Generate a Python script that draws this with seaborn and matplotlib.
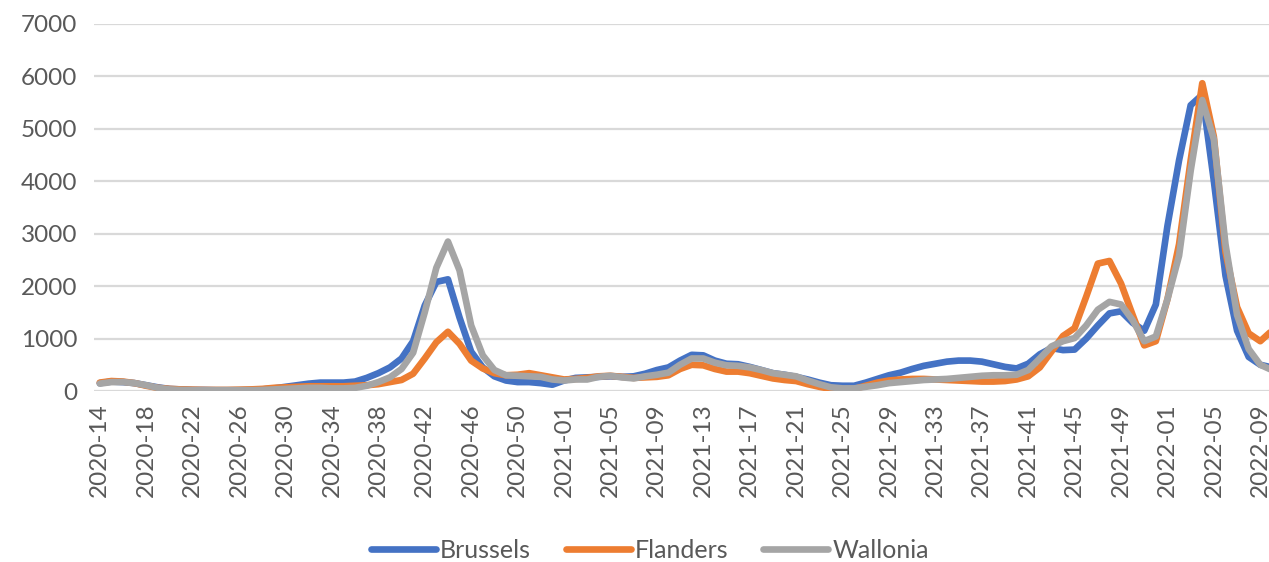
import pandas as pd
import matplotlib.pyplot as plt
import seaborn as sns

sns.set_style('white')
plt.rcParams['font.family'] = ['Lato', 'DejaVu Sans']

# week labels, 2020-14 .. 2022-10 (2020 has 53 weeks)
weeks = ([f'2020-{w:02d}' for w in range(14, 54)]
         + [f'2021-{w:02d}' for w in range(1, 53)]
         + [f'2022-{w:02d}' for w in range(1, 11)])

brussels = [150, 180, 170, 150, 110, 70, 40, 30, 20, 20,
            15, 15, 15, 20, 30, 50, 80, 110, 140, 160,
            160, 160, 180, 250, 340, 450, 620, 950, 1630, 2080,
            2130, 1400, 750, 450, 280, 200, 170, 170, 150, 120,
            200, 250, 260, 270, 280, 270, 280, 330, 400, 450,
            580, 690, 680, 580, 520, 510, 460, 400, 340, 310,
            270, 220, 160, 110, 100, 100, 160, 230, 300, 350,
            420, 480, 520, 560, 580, 580, 560, 510, 460, 430,
            520, 700, 820, 780, 790, 1000, 1250, 1480, 1520, 1300,
            1150, 1650, 3150, 4400, 5450, 5650, 4000, 2200, 1150, 650,
            500, 450]

flanders = [160, 190, 180, 150, 100, 60, 40, 30, 25, 20,
            20, 20, 25, 30, 40, 60, 70, 80, 90, 90,
            90, 90, 100, 110, 130, 170, 210, 330, 620, 930,
            1130, 900, 580, 430, 340, 300, 310, 340, 300, 260,
            220, 230, 250, 280, 290, 270, 250, 260, 270, 300,
            420, 500, 490, 420, 370, 370, 340, 290, 240, 210,
            190, 130, 80, 40, 30, 40, 100, 160, 200, 220,
            230, 230, 220, 210, 200, 190, 180, 180, 190, 220,
            280, 450, 750, 1050, 1200, 1800, 2430, 2480, 2050, 1450,
            870, 950, 1750, 2800, 4400, 5870, 4850, 2650, 1600, 1100,
            950, 1150]

wallonia = [140, 170, 170, 150, 110, 60, 30, 20, 15, 15,
            15, 15, 15, 15, 20, 30, 40, 50, 60, 60,
            50, 50, 60, 100, 170, 260, 420, 730, 1500, 2350,
            2850, 2300, 1250, 680, 400, 300, 290, 280, 270, 220,
            200, 220, 220, 270, 290, 260, 240, 280, 310, 350,
            500, 620, 620, 540, 490, 480, 450, 400, 340, 310,
            280, 200, 130, 70, 50, 50, 80, 110, 150, 170,
            190, 210, 220, 230, 250, 270, 290, 300, 300, 310,
            400, 620, 850, 950, 1010, 1250, 1550, 1700, 1650, 1350,
            950, 1040, 1750, 2580, 4200, 5550, 4800, 2800, 1450, 800,
            500, 400]

regions = ['Brussels', 'Flanders', 'Wallonia']
colors = ['#4472C4', '#ED7D31', '#A5A5A5']

n = len(weeks)
df = pd.DataFrame({
    'idx': list(range(n)) * 3,
    'value': brussels + flanders + wallonia,
    'region': [r for r in regions for _ in range(n)],
})

fig = plt.figure(figsize=(12.69, 5.62), dpi=100)
ax = fig.add_axes([94 / 1269, (562 - 391) / 562, (1269 - 94) / 1269, (391 - 24) / 562])

sns.lineplot(data=df, x='idx', y='value', hue='region', hue_order=regions,
             palette=colors, linewidth=4.8, errorbar=None, ax=ax)
for line in ax.lines:
    line.set_solid_capstyle('round')
    line.set_solid_joinstyle('round')

ax.set_xlim(-0.5, n - 0.5 - 0.75)
ax.set_ylim(0, 7000)
ax.set_yticks(range(0, 7001, 1000))
ax.set_xticks(range(0, n, 4))
ax.set_xticklabels(weeks[::4], rotation=90)
ax.tick_params(axis='both', length=0, labelsize=17.5, labelcolor='#595959')
ax.tick_params(axis='x', pad=9)
ax.tick_params(axis='y', pad=12)
ax.set_xlabel('')
ax.set_ylabel('')

ax.yaxis.grid(True, color='#D9D9D9', linewidth=1.6)
ax.set_axisbelow(True)
sns.despine(ax=ax, left=True, bottom=True)

handles, labels = ax.get_legend_handles_labels()
ax.get_legend().remove()
leg = fig.legend(handles, labels, loc='center', bbox_to_anchor=(650 / 1269, 1 - 550 / 562),
                 ncol=3, frameon=False, fontsize=18, handlelength=2.6,
                 handletextpad=0.15, columnspacing=1.4)
for t in leg.get_texts():
    t.set_color('#595959')
for h in leg.get_lines():
    h.set_linewidth(4.8)

fig.savefig('out.png', dpi=100)
